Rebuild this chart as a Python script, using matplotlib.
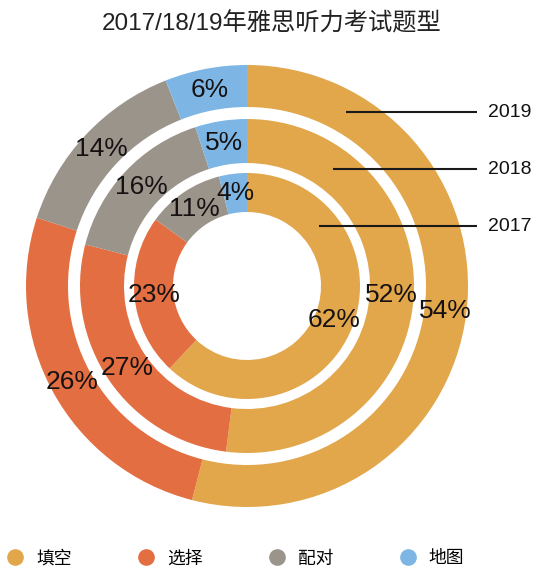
import matplotlib.pyplot as plt
from matplotlib.lines import Line2D

plt.rcParams['font.family'] = ['Liberation Sans', 'Noto Sans CJK SC', 'DejaVu Sans']

# question types (legend) and colours
types = ['填空', '选择', '配对', '地图']
colors = ['#E2A64B', '#E36E42', '#9B948B', '#7DB6E4']

# share of each type per year, in %
years = ['2019', '2018', '2017']
share_2019 = [54, 26, 14, 6]
share_2018 = [52, 27, 16, 5]
share_2017 = [62, 23, 11, 4]

# ring geometry in pixels (outer radius, width)
rings = [(221, 42), (167, 44), (113, 39)]
# height of the leader line for each year label, px above the centre
leader_y = [174, 117, 60]

W, H = 544, 584
cx, cy = 247, 286

fig = plt.figure(figsize=(W / 100, H / 100), dpi=100)
ax = fig.add_axes([0, 0, 1, 1])

for shares, (r, w) in zip([share_2019, share_2018, share_2017], rings):
    wedges, _, autotexts = ax.pie(
        shares, radius=r, colors=colors, startangle=90, counterclock=False,
        wedgeprops=dict(width=w, edgecolor='none'),
        autopct=lambda p: f'{p:.0f}%', pctdistance=(r - w / 2) / r,
        frame=True)
    for t in autotexts:
        t.set_fontsize(19)
        t.set_color('#161212')

ax.set_xlim(-cx, W - cx)
ax.set_ylim(-(H - cy), cy)
ax.set_aspect('equal')
ax.axis('off')

# leader lines with year labels
for year, (r, w), y in zip(years, rings, leader_y):
    rmid = r - w / 2
    x0 = (rmid ** 2 - y ** 2) ** 0.5
    ax.plot([x0, 230], [y, y], color='#1a1a1a', lw=1.5, solid_capstyle='butt')
    ax.text(241, y, year, fontsize=14, va='center', ha='left', color='#111111')

fig.text(0.5, 1 - 24 / H, '2017/18/19年雅思听力考试题型', ha='center', va='center',
         fontsize=17.5, color='#222222')

handles = [Line2D([], [], marker='o', ls='none', markersize=12, color=c,
                  markeredgewidth=0) for c in colors]
fig.legend(handles, types, loc='center left', bbox_to_anchor=(6.5 / W, 1 - 559 / H),
           ncol=4, frameon=False, fontsize=12.8, handlelength=1,
           handletextpad=0.66, columnspacing=3.7, borderpad=0, borderaxespad=0)

fig.savefig('out.png', dpi=100)
